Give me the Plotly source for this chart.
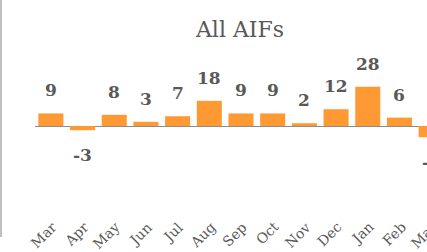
import plotly.graph_objects as go

months = ["Mar", "Apr", "May", "Jun", "Jul", "Aug", "Sep", "Oct", "Nov", "Dec", "Jan", "Feb", "Mar"]
values = [9, -3, 8, 3, 7, 18, 9, 9, 2, 12, 28, 6, -8]
title_text = "All AIFs"

FONT = "DejaVu Serif"
GREY = "#595959"
BAR = "#FF9933"

idx = list(range(len(months)))

# The original chart is wider than the visible 427 px window: the last
# category is cut off by the window edge, so the figure is drawn wider.
FIG_W = 447

fig = go.Figure()
fig.add_trace(go.Bar(x=idx, y=values, marker=dict(color=BAR, line=dict(width=0)),
                     hoverinfo="skip"))

annotations = []
for i, v in zip(idx, values):
    annotations.append(dict(
        x=i, y=v, xref="x", yref="y", text=str(v), showarrow=False,
        yanchor="bottom" if v >= 0 else "top",
        yshift=11 if v >= 0 else -13,
        font=dict(family=FONT, size=17, color=GREY, weight="bold"),
    ))
# category labels, rotated, placed on the x scale
for i, m in zip(idx, months):
    annotations.append(dict(
        x=i, y=0, xref="x", yref="paper", text=m, showarrow=False,
        textangle=-45, xanchor="right", yanchor="top", xshift=12, yshift=-4,
        font=dict(family=FONT, size=14, color=GREY),
    ))

fig.update_layout(
    width=FIG_W, height=252,
    margin=dict(l=35, r=0, t=50, b=40),
    paper_bgcolor="white", plot_bgcolor="white",
    showlegend=False,
    bargap=0.21,
    title=dict(text=title_text, x=240/FIG_W, xanchor="center", y=1-29/252, yanchor="middle",
               yref="container", font=dict(family=FONT, size=22, color=GREY)),
    xaxis=dict(
        range=[-0.5, len(idx) - 0.5], showticklabels=False,
        showgrid=False, showline=False, zeroline=False, ticks="",
    ),
    yaxis=dict(
        range=[-61.4, 54.3], showgrid=False, showticklabels=False, ticks="",
        zeroline=True, zerolinecolor="#8C8C8C", zerolinewidth=1, showline=False,
    ),
    annotations=annotations,
    shapes=[dict(type="line", xref="paper", yref="paper",
                 x0=-34/(FIG_W-35), x1=-34/(FIG_W-35), y0=1+50/162, y1=1-(237-50)/162,
                 line=dict(color="#BFBFBF", width=2))],
)

fig.write_html("out.html", config={"displayModeBar": False},
               post_script="document.body.style.margin='0';document.body.style.overflow='hidden';"
                           "document.documentElement.style.overflow='hidden';")
